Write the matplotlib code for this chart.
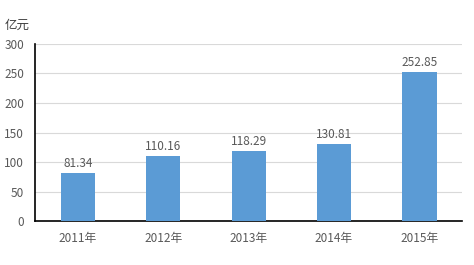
import matplotlib.pyplot as plt

plt.rcParams['font.family'] = ['Noto Sans CJK SC', 'DejaVu Sans']

years = ['2011年', '2012年', '2013年', '2014年', '2015年']
values = [81.34, 110.16, 118.29, 130.81, 252.85]
yticks = [0, 50, 100, 150, 200, 250, 300]

text_color = '#595959'
bar_color = '#5B9BD5'

fig = plt.figure(figsize=(4.74, 2.65), dpi=100)
ax = fig.add_axes([0.074, 0.166, 0.901, 0.668])

x = range(len(years))
bars = ax.bar(x, values, width=0.4, color=bar_color, zorder=3)
for b, v in zip(bars, values):
    ax.text(b.get_x() + b.get_width() / 2, v + 5, f'{v:.2f}', ha='center', va='bottom',
            fontsize=8.5, color=text_color)

ax.set_xlim(-0.5, len(years) - 0.5)
ax.set_ylim(0, 300)
ax.set_yticks(yticks)
ax.set_xticks(list(x))
ax.set_xticklabels(years)
ax.tick_params(axis='both', length=0, labelsize=8.5, labelcolor=text_color)
ax.tick_params(axis='x', pad=8)
ax.tick_params(axis='y', pad=8)
ax.grid(axis='y', color='#D9D9D9', linewidth=0.8, zorder=0)

for s in ['top', 'right']:
    ax.spines[s].set_visible(False)
ax.spines['left'].set_color('black')
ax.spines['bottom'].set_color('black')
ax.spines['left'].set_linewidth(1.2)
ax.spines['bottom'].set_linewidth(1.2)

fig.text(0.01, 0.905, '亿元', fontsize=9, color='#404040', va='center', ha='left')

fig.savefig('out.png', dpi=100)
